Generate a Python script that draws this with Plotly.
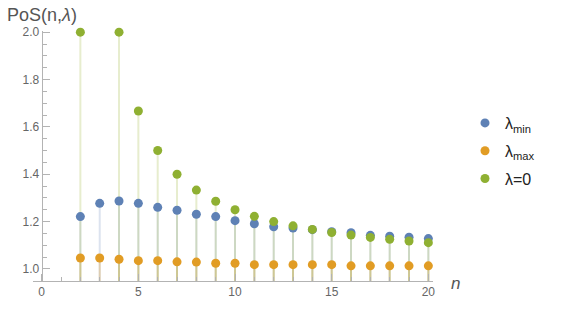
import plotly.graph_objects as go

n_vals = list(range(2, 21))
lam_min = [1.221, 1.277, 1.287, 1.277, 1.260, 1.248, 1.231, 1.221, 1.204, 1.191,
           1.178, 1.173, 1.166, 1.157, 1.153, 1.142, 1.138, 1.134, 1.128]
lam_max = [1.046, 1.046, 1.041, 1.035, 1.035, 1.030, 1.029, 1.024, 1.024, 1.018,
           1.018, 1.018, 1.018, 1.018, 1.013, 1.013, 1.013, 1.013, 1.013]
lam_zero = [2.0, None, 2.0, 1.667, 1.5, 1.4, 1.333, 1.286, 1.25, 1.222,
            1.2, 1.182, 1.167, 1.154, 1.143, 1.133, 1.125, 1.118, 1.111]

series_names = ["λ<sub>min</sub>", "λ<sub>max</sub>", "λ=0"]
series_vals = [lam_min, lam_max, lam_zero]
colors = ["#5E81B5", "#E19C24", "#8FB032"]
stem_colors = ["rgba(94,129,181,0.22)", "rgba(225,156,36,0.30)", "rgba(160,185,60,0.25)"]

X_RANGE = [-0.45, 20.24]
Y_RANGE = [0.949, 2.005]
BASE = Y_RANGE[0]

fig = go.Figure()

# stems (filling to axis)
for vals, sc in zip(series_vals, stem_colors):
    xs, ys = [], []
    for n, v in zip(n_vals, vals):
        if v is None:
            continue
        xs += [n, n, None]
        ys += [BASE, v, None]
    fig.add_trace(go.Scatter(x=xs, y=ys, mode="lines", line=dict(color=sc, width=2),
                             showlegend=False, hoverinfo="skip"))

# points
for i, (name, vals, c) in enumerate(zip(series_names, series_vals, colors)):
    fig.add_trace(go.Scatter(x=n_vals, y=vals, mode="markers", name=name,
                             marker=dict(color=c, size=9), legendgroup=str(i),
                             cliponaxis=False))

axis_color = "#b3b3b3"
tick_font = dict(family="Liberation Sans, Arial, sans-serif", size=12, color="#666666")

fig.update_layout(
    width=585, height=336,
    margin=dict(l=33, r=152, t=31, b=55),
    plot_bgcolor="white", paper_bgcolor="white",
    showlegend=True,
    legend=dict(x=1.08, xanchor="left", y=0.70, yanchor="top",
                font=dict(family="Liberation Sans, Arial, sans-serif", size=16, color="#222222"),
                tracegroupgap=4, bgcolor="rgba(0,0,0,0)"),
    xaxis=dict(range=X_RANGE, showgrid=False, zeroline=False, showline=True,
               linecolor=axis_color, linewidth=1,
               tickvals=[0, 5, 10, 15, 20], ticks="inside", ticklen=7, tickcolor=axis_color,
               minor=dict(dtick=1, tick0=0, ticks="inside", ticklen=4, tickcolor=axis_color),
               tickfont=tick_font),
    yaxis=dict(range=Y_RANGE, showgrid=False, zeroline=False, showline=True,
               linecolor=axis_color, linewidth=1, anchor="free",
               position=(0 - X_RANGE[0]) / (X_RANGE[1] - X_RANGE[0]),
               tickvals=[1.0, 1.2, 1.4, 1.6, 1.8, 2.0], ticktext=["1.0", "1.2", "1.4", "1.6", "1.8", "2.0"],
               ticks="inside", ticklen=7, tickcolor=axis_color,
               minor=dict(dtick=0.05, tick0=0, ticks="inside", ticklen=4, tickcolor=axis_color),
               tickfont=tick_font),
    annotations=[
        dict(text="PoS(n,<i>λ</i>)", xref="paper", yref="paper", x=-0.07, y=1.065,
             xanchor="left", yanchor="middle", showarrow=False,
             font=dict(family="Liberation Sans, Arial, sans-serif", size=18, color="#555555")),
        dict(text="<i>n</i>", xref="paper", yref="paper", x=1.055, y=-0.01,
             xanchor="center", yanchor="middle", showarrow=False,
             font=dict(family="Liberation Sans, Arial, sans-serif", size=17, color="#555555")),
    ],
)

fig.write_html("out.html")
